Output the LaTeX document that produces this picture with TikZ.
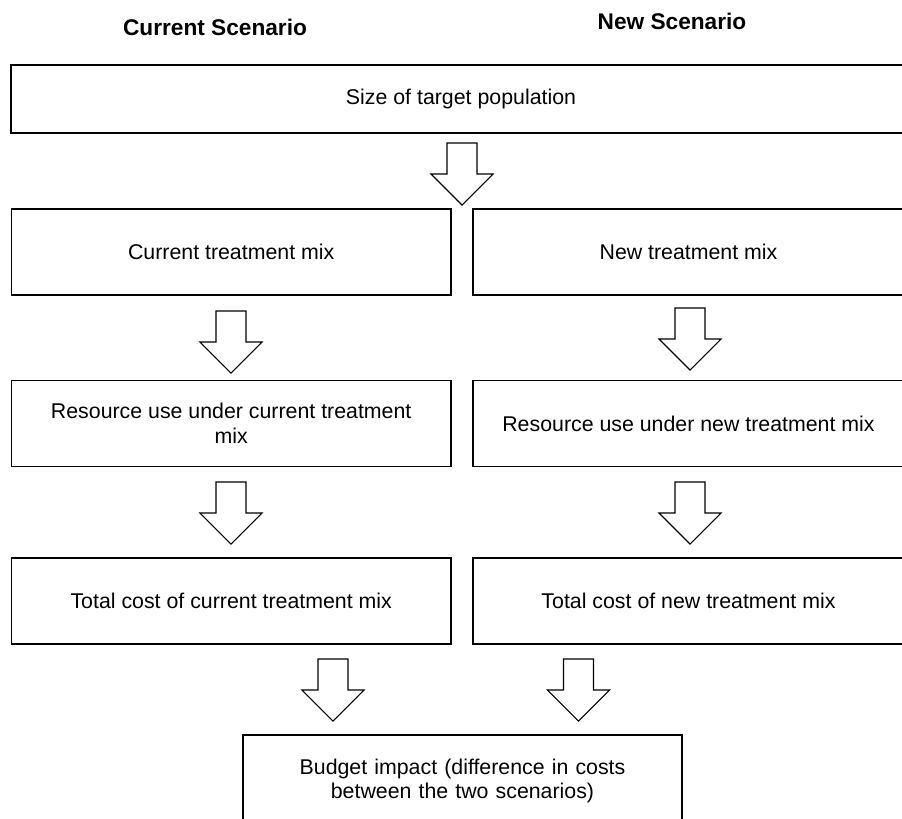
\documentclass[tikz,border=0pt]{standalone}
\usepackage{fontspec}
\setmainfont{Liberation Sans}
\usetikzlibrary{positioning}

\tikzset{
  dnarrow/.pic={\draw[line width=0.8pt, fill=white]
      (-15,0) -- (-15,31) -- (-31,31) -- (0,62) -- (31,31) -- (15,31) -- (15,0) -- cycle;}
}

\begin{document}
\begin{tikzpicture}[x=0.75pt, y=-0.75pt,
    font=\fontsize{16}{18.6}\selectfont,
    head/.style={font=\fontsize{17}{20}\selectfont\bfseries, inner sep=0pt},
    box/.style={draw=black, line width=1.1pt, fill=white, align=center,
                minimum width=329.6pt, minimum height=64.5pt, inner sep=3pt},
    rbox/.style={box, minimum width=323.3pt}]
    \useasboundingbox (0,0) rectangle (902,818);
    \clip (0,0) rectangle (902,818);
    \node[head] (hcur) at (215,27) {Current Scenario};
    \node[head] (hnew) at (672,21) {New Scenario};
    \node[box, minimum width=675pt, minimum height=51pt] (top) at (461,99) {Size of target population};
    \pic at (462,143) {dnarrow};
    \node[box]  (cur1) at (231.2,252) {Current treatment mix};
    \node[rbox] (new1) at (688.5,252) {New treatment mix};
    \pic at (231,311) {dnarrow};
    \pic at (690,308) {dnarrow};
    \node[box]  (cur2) at (231.2,423.5) {Resource use under current treatment\\mix};
    \node[rbox] (new2) at (688.5,423.5) {Resource use under new treatment mix};
    \pic at (231,482) {dnarrow};
    \pic at (690,482) {dnarrow};
    \node[box]  (cur3) at (231.2,601) {Total cost of current treatment mix};
    \node[rbox] (new3) at (688.5,601) {Total cost of new treatment mix};
    \pic at (333,659) {dnarrow};
    \pic at (578.5,659) {dnarrow};
    \node[box, anchor=base, minimum width=0pt, minimum height=0pt, inner xsep=0pt, inner ysep=0pt,
          text width=329.3pt, text height=29.25pt, text depth=42pt] (bimp) at (462.5,774)
          {Budget impact (difference in costs\\between the two scenarios)};
  \end{tikzpicture}
\end{document}
